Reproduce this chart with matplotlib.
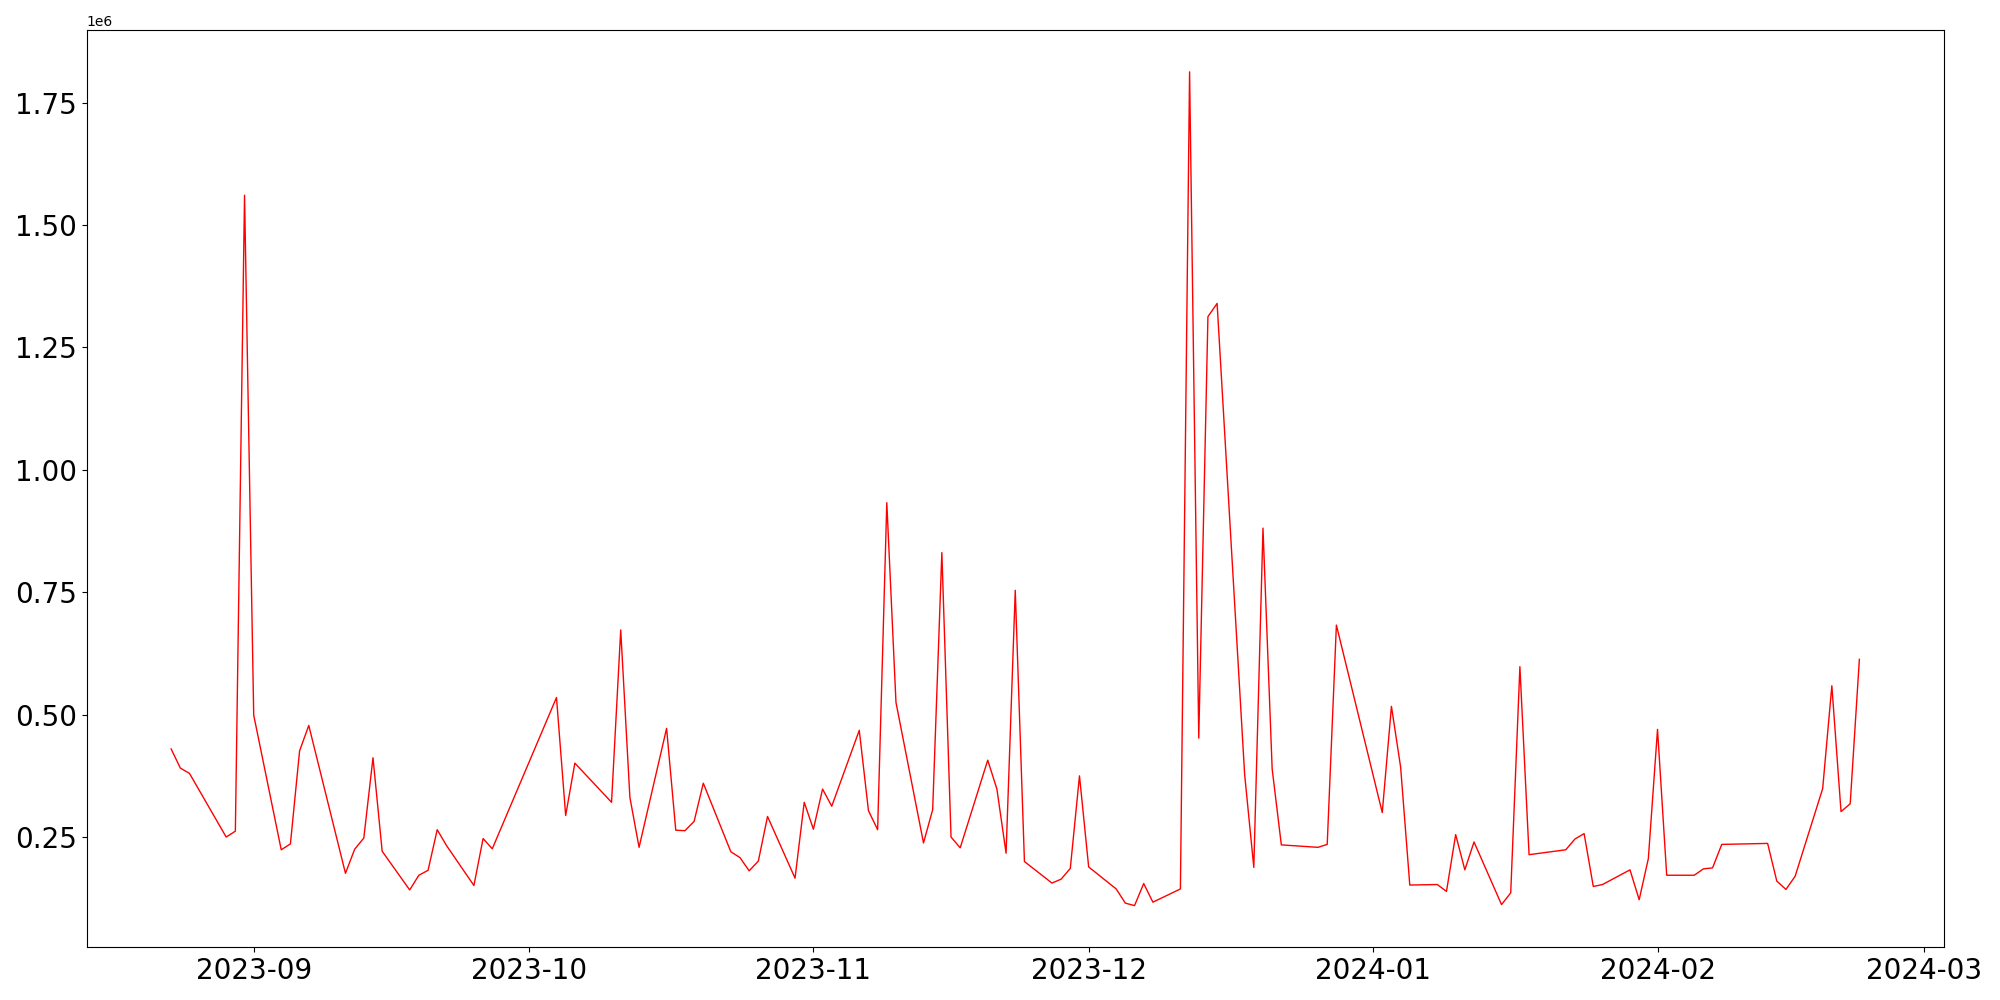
import pandas as pd
import matplotlib
matplotlib.use("Agg")
import matplotlib.pyplot as plt

# daily values (units of 1e6)
dates = [
    "2023-08-23", "2023-08-24", "2023-08-25", "2023-08-29", "2023-08-30", "2023-08-31",
    "2023-09-01", "2023-09-04", "2023-09-05", "2023-09-06", "2023-09-07", "2023-09-11",
    "2023-09-12", "2023-09-13", "2023-09-14", "2023-09-15", "2023-09-18", "2023-09-19",
    "2023-09-20", "2023-09-21", "2023-09-22", "2023-09-25", "2023-09-26", "2023-09-27",
    "2023-10-04", "2023-10-05", "2023-10-06", "2023-10-10", "2023-10-11", "2023-10-12",
    "2023-10-13", "2023-10-16", "2023-10-17", "2023-10-18", "2023-10-19", "2023-10-20",
    "2023-10-23", "2023-10-24", "2023-10-25", "2023-10-26", "2023-10-27", "2023-10-30",
    "2023-10-31", "2023-11-01", "2023-11-02", "2023-11-03", "2023-11-06", "2023-11-07",
    "2023-11-08", "2023-11-09", "2023-11-10", "2023-11-13", "2023-11-14", "2023-11-15",
    "2023-11-16", "2023-11-17", "2023-11-20", "2023-11-21", "2023-11-22", "2023-11-23",
    "2023-11-24", "2023-11-27", "2023-11-28", "2023-11-29", "2023-11-30", "2023-12-01",
    "2023-12-04", "2023-12-05", "2023-12-06", "2023-12-07", "2023-12-08", "2023-12-11",
    "2023-12-12", "2023-12-13", "2023-12-14", "2023-12-15", "2023-12-18", "2023-12-19",
    "2023-12-20", "2023-12-21", "2023-12-22", "2023-12-26", "2023-12-27", "2023-12-28",
    "2024-01-02", "2024-01-03", "2024-01-04", "2024-01-05", "2024-01-08", "2024-01-09",
    "2024-01-10", "2024-01-11", "2024-01-12", "2024-01-15", "2024-01-16", "2024-01-17",
    "2024-01-18", "2024-01-22", "2024-01-23", "2024-01-24", "2024-01-25", "2024-01-26",
    "2024-01-29", "2024-01-30", "2024-01-31", "2024-02-01", "2024-02-02", "2024-02-05",
    "2024-02-06", "2024-02-07", "2024-02-08", "2024-02-13", "2024-02-14", "2024-02-15",
    "2024-02-16", "2024-02-19", "2024-02-20", "2024-02-21", "2024-02-22", "2024-02-23",
]

values_m = [
    0.430, 0.391, 0.380, 0.250, 0.262, 1.561,
    0.499, 0.224, 0.236, 0.426, 0.478, 0.176,
    0.225, 0.248, 0.412, 0.221, 0.142, 0.172,
    0.182, 0.265, 0.233, 0.151, 0.247, 0.226,
    0.535, 0.294, 0.401, 0.321, 0.673, 0.331,
    0.229, 0.472, 0.264, 0.263, 0.282, 0.360,
    0.220, 0.208, 0.181, 0.201, 0.292, 0.166,
    0.321, 0.266, 0.348, 0.313, 0.468, 0.304,
    0.265, 0.933, 0.525, 0.238, 0.306, 0.831,
    0.250, 0.228, 0.407, 0.348, 0.217, 0.754,
    0.200, 0.156, 0.164, 0.186, 0.375, 0.189,
    0.144, 0.115, 0.110, 0.155, 0.117, 0.144,
    1.813, 0.452, 1.313, 1.340, 0.378, 0.188,
    0.881, 0.389, 0.234, 0.229, 0.235, 0.683,
    0.300, 0.517, 0.393, 0.152, 0.153, 0.139,
    0.255, 0.183, 0.240, 0.112, 0.136, 0.598,
    0.214, 0.224, 0.246, 0.257, 0.149, 0.153,
    0.183, 0.122, 0.206, 0.470, 0.172, 0.172,
    0.185, 0.187, 0.235, 0.237, 0.160, 0.143,
    0.170, 0.349, 0.559, 0.302, 0.318, 0.613,
]

x = pd.to_datetime(dates)
y = [v * 1e6 for v in values_m]

fig, ax = plt.subplots(figsize=(20, 10), dpi=100)
ax.plot(x, y, color="red", linewidth=1)
plt.xticks(fontsize=20)
plt.yticks(fontsize=20)

plt.tight_layout()
plt.savefig("out.png")
plt.close()
